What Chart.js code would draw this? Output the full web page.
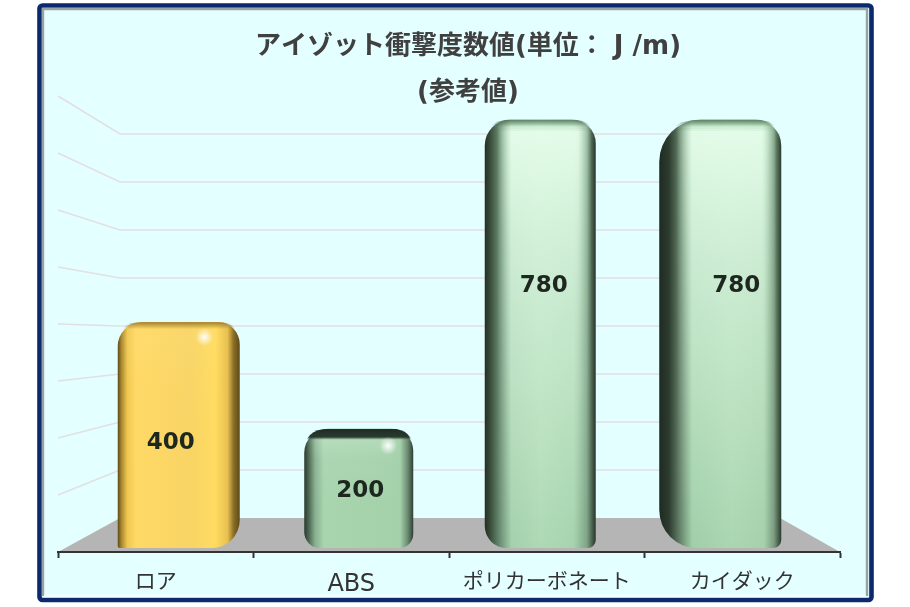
<!DOCTYPE html>
<html><head><meta charset="utf-8">
<style>html,body{margin:0;padding:0;background:#fff}canvas{display:block}</style>
<script src="https://cdn.jsdelivr.net/npm/chart.js@4/dist/chart.umd.min.js"></script>
</head><body>
<div style="width:910px;height:607px"><canvas id="c" width="910" height="607"></canvas></div>
<script>
const categories = ['ロア','ABS','ポリカーボネート','カイダック'];
const values = [400,200,780,780];
const gridLevels = [100,200,300,400,500,600,700,800];
const titleLines = ['アイゾット衝撃度数値(単位： J /m)','(参考値)'];

// ---- styling only: perspective look of each bar, in pixels ----
const BAR_LEFT_SHIFT = [-38,-47,-62,-83];   // left edge relative to the category centre
const BAR_WIDTH = [122,109,111,122];
const LABEL_DX = [15,9,-3,-6];
const LABEL_Y = [443,491,286,286];
const BAR_RADII = [
 {topLeft:24,topRight:22,bottomLeft:2,bottomRight:28},
 {topLeft:24,topRight:22,bottomLeft:16,bottomRight:14},
 {topLeft:26,topRight:24,bottomLeft:22,bottomRight:8},
 {topLeft:42,topRight:26,bottomLeft:38,bottomRight:8}
];
const yellowStops=[[0,'#5e4a18'],[.03,'#a8862e'],[.08,'#f0c850'],[.15,'#FFD966'],[.6,'#F8D465'],[.8,'#FFDC60'],[.9,'#e8c050'],[.95,'#8a6e28'],[1,'#5e4a18']];
const BAR_STOPS=[
 yellowStops,
 [[0,'#2a3a2e'],[.04,'#4a6650'],[.1,'#88b090'],[.18,'#a8d4ae'],[.88,'#a4d0aa'],[.95,'#6a8a70'],[1,'#2f3f33']],
 [[0,'#222e24'],[.05,'#3a4e3c'],[.14,'#6c9074'],[.24,'#a4d0ac'],[.5,'#aed9b4'],[.8,'#a6d4ae'],[.92,'#7ea486'],[.98,'#3c4e40'],[1,'#2a3a2e']],
 [[0,'#1e2a20'],[.08,'#2e3c30'],[.18,'#6a8a70'],[.27,'#a0cfa8'],[.6,'#aad6b0'],[.86,'#a4d0aa'],[.94,'#7a9c80'],[.99,'#364a3a'],[1,'#2a3a2e']]
];
// inner sheen: [top alpha, mid alpha, px from top to mid, px to zero, inner start, inner end]
const SHEEN=[[.12,.02,60,90,.1,.9],[.3,.05,30,50,.12,.9],[.95,.6,130,300,.24,.96],[.95,.6,130,300,.27,.96]];

function barBox(chart,i){
  const cx=chart.scales.x.getPixelForValue(i);
  return {x0:cx+BAR_LEFT_SHIFT[i],w:BAR_WIDTH[i]};
}
function gradFor(chart,i){
  if(!Number.isInteger(i)||!chart.chartArea)return '#a8d4ae';
  const b=barBox(chart,i);
  if(!isFinite(b.x0))return '#a8d4ae';
  const g=chart.ctx.createLinearGradient(b.x0,0,b.x0+b.w,0);
  BAR_STOPS[i].forEach(s=>g.addColorStop(s[0],s[1]));
  return g;
}
function roundPath(ctx,x,y,w,h,r){
  ctx.beginPath();
  ctx.moveTo(x+r.topLeft,y);ctx.lineTo(x+w-r.topRight,y);
  ctx.quadraticCurveTo(x+w,y,x+w,y+r.topRight);
  ctx.lineTo(x+w,y+h-r.bottomRight);ctx.quadraticCurveTo(x+w,y+h,x+w-r.bottomRight,y+h);
  ctx.lineTo(x+r.bottomLeft,y+h);ctx.quadraticCurveTo(x,y+h,x,y+h-r.bottomLeft);
  ctx.lineTo(x,y+r.topLeft);ctx.quadraticCurveTo(x,y,x+r.topLeft,y);ctx.closePath();
}
const decor={
  id:'decor',
  afterLayout(chart){
    const t=chart.titleBlock; if(t){t.left+=19;t.right+=19;}
  },
  afterDatasetsUpdate(chart){
    chart.getDatasetMeta(0).data.forEach((el,i)=>{
      const b=barBox(chart,i);
      el.x=b.x0+b.w/2; el.width=b.w;
    });
  },
  beforeDraw(chart){
    const c=chart.ctx,xs=chart.scales.x,ys=chart.scales.y;
    c.save();
    // frame
    c.fillStyle='#fff';c.fillRect(0,0,910,607);
    c.beginPath();c.roundRect(39.5,5.5,832,594.5,3);
    c.fillStyle='#E4FFFF';c.fill();
    c.lineWidth=4.6;c.strokeStyle='#0B2A6E';c.stroke();
    c.lineWidth=2.4;c.strokeStyle='#9aa3a3';
    c.beginPath();c.moveTo(43,596);c.lineTo(43,9);c.lineTo(867,9);c.lineTo(867,596);c.stroke();
    c.strokeStyle='#f6ffff';c.beginPath();c.moveTo(44,596);c.lineTo(866,596);c.stroke();
    // walls
    const inset=62,left=xs.left,right=xs.right,backL=left+inset,backR=right-60;
    const y0=ys.getPixelForValue(0),base=ys.bottom;
    c.fillStyle='#B5B5B5';
    c.beginPath();c.moveTo(left,base);c.lineTo(backL,y0);c.lineTo(backR,y0);c.lineTo(right,base);c.closePath();c.fill();
    c.strokeStyle='#E2E0E2';c.lineWidth=1.7;
    gridLevels.forEach(v=>{
      const y=ys.getPixelForValue(v);
      const fy=base-(y0-y)*57/48;
      c.beginPath();c.moveTo(left,fy);c.lineTo(backL,y);c.lineTo(backR,y);c.stroke();
    });
    c.restore();
  },
  afterDatasetsDraw(chart){
    const c=chart.ctx,meta=chart.getDatasetMeta(0);
    meta.data.forEach((el,i)=>{
      const w=el.width,x=el.x-w/2,top=el.y,h=el.base-el.y;
      c.save();
      roundPath(c,x,top,w,h,BAR_RADII[i]);c.clip();
      const s=SHEEN[i];
      const tint=i===0?'255,240,170':'232,255,238';
      const y0=Math.floor(top);
      for(let yy=0;yy<h+2;yy+=2){
        let a=yy<s[2]?s[0]+(s[1]-s[0])*yy/s[2]:(yy<s[2]+s[3]?s[1]*(1-(yy-s[2])/s[3]):0);
        if(yy<12)a*=yy/12;
        if(a<=0)continue;
        const g=c.createLinearGradient(x,0,x+w,0);
        g.addColorStop(Math.max(0,s[4]-.13),'rgba('+tint+',0)');
        g.addColorStop(s[4],'rgba('+tint+','+a+')');
        g.addColorStop(s[5]-.12,'rgba('+tint+','+a+')');
        g.addColorStop(s[5],'rgba('+tint+',0)');
        c.fillStyle=g;c.fillRect(x,y0+yy,w,2);
      }
      // top edge shading
      const tg=c.createLinearGradient(0,top,0,top+(i===1?11:7));
      if(i===1){tg.addColorStop(0,'rgba(30,45,36,1)');tg.addColorStop(.75,'rgba(35,50,40,.95)');tg.addColorStop(1,'rgba(35,50,40,0)');}
      else if(i===0){tg.addColorStop(0,'rgba(140,105,30,.8)');tg.addColorStop(1,'rgba(140,105,30,0)');}
      else{tg.addColorStop(0,'rgba(60,90,66,.7)');tg.addColorStop(1,'rgba(60,90,66,0)');}
      c.fillStyle=tg;c.fillRect(x,top,w,12);
      // specular spot on the two short bars
      if(i<2){
        const sx=x+w*(i===0?.71:.77),sy=top+(i===0?15:17);
        const rg=c.createRadialGradient(sx,sy,0,sx,sy,9);
        rg.addColorStop(0,'rgba(255,255,255,.95)');rg.addColorStop(1,'rgba(255,255,255,0)');
        c.fillStyle=rg;c.fillRect(sx-10,sy-10,20,20);
      }
      c.restore();
      // value label
      c.save();
      c.font='bold 23px "DejaVu Sans"';c.fillStyle='#1d261f';
      c.textAlign='center';c.textBaseline='middle';
      c.fillText(String(values[i]),chart.scales.x.getPixelForValue(i)+LABEL_DX[i],LABEL_Y[i]);
      c.restore();
    });
  }
};
const FONT_STACK='"DejaVu Sans","Noto Sans CJK JP"';
new Chart(document.getElementById('c'),{
  type:'bar',
  data:{labels:categories,datasets:[{
    data:values,yAxisID:'y2',base:-24,clip:false,
    backgroundColor:ctx=>gradFor(ctx.chart,ctx.dataIndex),
    borderRadius:ctx=>Number.isInteger(ctx.dataIndex)?BAR_RADII[ctx.dataIndex]:0,
    borderSkipped:false,borderWidth:0
  }]},
  plugins:[decor],
  options:{
    responsive:false,animation:false,devicePixelRatio:1,
    layout:{padding:{left:58,right:70,top:24,bottom:0}},
    plugins:{
      legend:{display:false},tooltip:{enabled:false},
      title:{display:true,text:titleLines,color:'#404040',padding:0,
        font:{family:FONT_STACK,size:26,weight:'bold',lineHeight:1.77}}
    },
    scales:{
      x:{offset:true,
        afterFit(s){s.height=55;},
        grid:{offset:true,drawOnChartArea:false,drawTicks:true,tickLength:6,tickColor:'#333',tickWidth:2},
        border:{color:'#333',width:2},
        ticks:{color:'#333',padding:12,maxRotation:0,autoSkip:false,
          font:ctx=>({family:FONT_STACK,size:ctx.index===1?24:21})}
      },
      y:{display:false,min:-70.83,max:837.4},
      y2:{display:false,min:-31.3,max:786.6}
    }
  }
});
</script>
</body></html>
